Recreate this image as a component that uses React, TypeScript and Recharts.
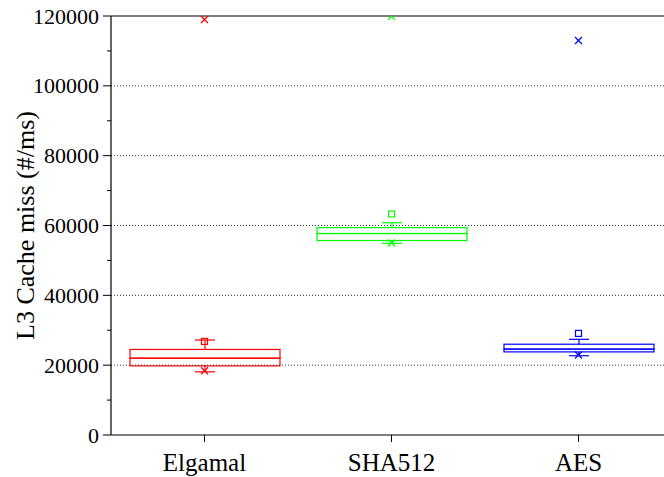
import { ComposedChart, Bar, Line, XAxis, YAxis, ReferenceLine } from 'recharts'

const categories = ['Elgamal', 'SHA512', 'AES']
const colors = ['#ff0000', '#00ff00', '#0000ff']

// box statistics
const whiskerLow = [18100, 54900, 22700]
const q1 = [19800, 55700, 23800]
const median = [22000, 57700, 24600]
const q3 = [24500, 59400, 26000]
const whiskerHigh = [27200, 60800, 27400]
const mean = [26800, 63300, 29100]
const crossLow = [18400, 55000, 22900]
const crossHigh = [119000, 119900, 113000]

const yTicks = [0, 10000, 20000, 30000, 40000, 50000, 60000, 70000, 80000, 90000, 100000, 110000, 120000]
const gridValues = [20000, 40000, 60000, 80000, 100000]

const data = categories.map((name, i) => ({
  name,
  base: whiskerLow[i],
  lowWhisker: q1[i] - whiskerLow[i],
  boxLow: median[i] - q1[i],
  boxHigh: q3[i] - median[i],
  highWhisker: whiskerHigh[i] - q3[i],
  mean: mean[i],
  crossLow: crossLow[i],
  crossHigh: crossHigh[i],
}))

const FONT = 'Liberation Serif, Times New Roman, DejaVu Serif, serif'
const colorOf = (payload: any) => colors[categories.indexOf(payload?.name)] ?? '#000'

function BoxShape(props: any) {
  const { x, y, width, height, payload } = props
  return <rect x={x} y={y} width={width} height={height} fill="none" stroke={colorOf(payload)} strokeWidth={1.2} />
}

function LowWhisker(props: any) {
  const { x, y, width, height, payload } = props
  const cx = x + width / 2
  const c = colorOf(payload)
  return (
    <g stroke={c} strokeWidth={1.2}>
      <line x1={cx} x2={cx} y1={y} y2={y + height} />
      <line x1={cx - 10} x2={cx + 10} y1={y + height} y2={y + height} />
    </g>
  )
}

function HighWhisker(props: any) {
  const { x, y, width, height, payload } = props
  const cx = x + width / 2
  const c = colorOf(payload)
  return (
    <g stroke={c} strokeWidth={1.2}>
      <line x1={cx} x2={cx} y1={y} y2={y + height} />
      <line x1={cx - 10} x2={cx + 10} y1={y} y2={y} />
    </g>
  )
}

function SquareDot(props: any) {
  const { cx, cy, payload } = props
  if (cx == null || cy == null) return null
  return <rect x={cx - 3} y={cy - 3} width={6} height={6} fill="none" stroke={colorOf(payload)} strokeWidth={1.2} />
}

function CrossDot(props: any) {
  const { cx, cy, payload } = props
  if (cx == null || cy == null) return null
  const c = colorOf(payload)
  return (
    <g stroke={c} strokeWidth={1.3}>
      <line x1={cx - 3.5} x2={cx + 3.5} y1={cy - 3.5} y2={cy + 3.5} />
      <line x1={cx - 3.5} x2={cx + 3.5} y1={cy + 3.5} y2={cy - 3.5} />
    </g>
  )
}

function YTick(props: any) {
  const { x, y, payload } = props
  const major = payload.value % 20000 === 0
  return (
    <g>
      <line x1={x} x2={x - (major ? 8 : 4)} y1={y} y2={y} stroke="#000" />
      {major && (
        <text x={x - 12} y={y} textAnchor="end" dominantBaseline="central" style={{ fontFamily: FONT, fontSize: 22 }} fill="#000">
          {payload.value}
        </text>
      )}
    </g>
  )
}

function XTick(props: any) {
  const { x, y, payload } = props
  return (
    <g>
      <line x1={x} x2={x} y1={y} y2={y + 7} stroke="#000" />
      <text x={x} y={y + 36} textAnchor="middle" style={{ fontFamily: FONT, fontSize: 25 }} fill="#000">
        {payload.value}
      </text>
    </g>
  )
}

function YLabel(props: any) {
  const vb = props.viewBox || { y: 16, height: 419 }
  const cx = 25
  const cy = vb.y + vb.height / 2
  return (
    <text x={cx} y={cy} transform={`rotate(-90 ${cx} ${cy})`} textAnchor="middle" dominantBaseline="central" style={{ fontFamily: FONT, fontSize: 26 }} fill="#000">
      L3 Cache miss (#/ms)
    </text>
  )
}

export default function App() {
  return (
    <div style={{ position: 'fixed', left: 0, top: 0, width: 664, height: 477, overflow: 'hidden', background: '#fff', fontFamily: FONT }}>
      <ComposedChart width={672} height={477} data={data} margin={{ top: 16, right: 0, bottom: 0, left: 0 }} barSize={150}>
        <XAxis dataKey="name" height={42} tickSize={0} tickMargin={0} tick={<XTick />} axisLine={{ stroke: '#000', strokeWidth: 1.2 }} tickLine={false} interval={0} />
        <YAxis
          width={111}
          domain={[0, 120000]}
          allowDataOverflow
          ticks={yTicks}
          interval={0}
          tickSize={0}
          tickMargin={0}
          tick={<YTick />}
          tickLine={false}
          axisLine={{ stroke: '#000', strokeWidth: 1.2 }}
          label={<YLabel />}
        />
        {gridValues.map(v => (
          <ReferenceLine key={v} y={v} stroke="#333" strokeDasharray="1 2" />
        ))}
        <Bar dataKey="base" stackId="b" fill="none" isAnimationActive={false} />
        <Bar dataKey="lowWhisker" stackId="b" shape={<LowWhisker />} isAnimationActive={false} />
        <Bar dataKey="boxLow" stackId="b" shape={<BoxShape />} isAnimationActive={false} />
        <Bar dataKey="boxHigh" stackId="b" shape={<BoxShape />} isAnimationActive={false} />
        <Bar dataKey="highWhisker" stackId="b" shape={<HighWhisker />} isAnimationActive={false} />
        <Line dataKey="mean" stroke="none" dot={<SquareDot />} activeDot={false} isAnimationActive={false} />
        <Line dataKey="crossLow" stroke="none" dot={<CrossDot />} activeDot={false} isAnimationActive={false} />
        <Line dataKey="crossHigh" stroke="none" dot={<CrossDot />} activeDot={false} isAnimationActive={false} />
        <ReferenceLine y={120000} stroke="#000" strokeWidth={1.2} />
      </ComposedChart>
    </div>
  )
}
